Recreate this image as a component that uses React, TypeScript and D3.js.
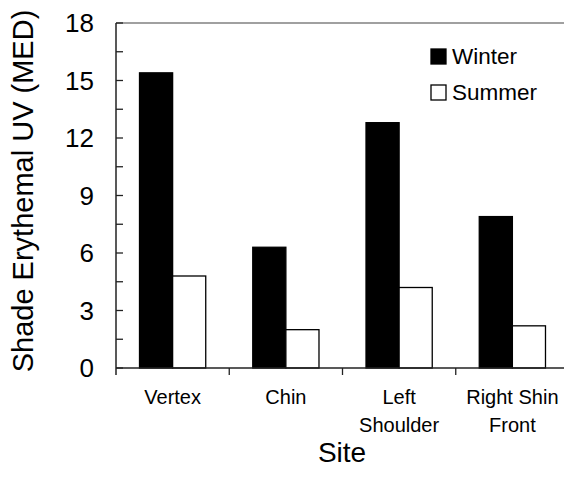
import { useEffect, useRef } from "react"
import * as d3 from "d3"

const sites = [["Vertex"], ["Chin"], ["Left", "Shoulder"], ["Right Shin", "Front"]]
const seasons = ["Winter", "Summer"]
const winter = [15.4, 6.3, 12.8, 7.9]
const summer = [4.8, 2.0, 4.2, 2.2]
const yTicks = [0, 3, 6, 9, 12, 15, 18]

const W = 564
const H = 479
const FONT = "Arial, 'Liberation Sans', sans-serif"

const App = () => {
  const ref = useRef<SVGSVGElement>(null)

  useEffect(() => {
    const svg = d3.select(ref.current)
    svg.selectAll("*").remove()

    const left = 116
    const right = 569
    const top = 23
    const bottom = 368

    const keys = sites.map((_, i) => String(i))
    const x = d3.scaleBand().domain(keys).range([left, right]).padding(0)
    const inner = d3
      .scaleBand()
      .domain(seasons)
      .range([0, x.bandwidth()])
      .paddingInner(0)
      .paddingOuter(0.71)
    const y = d3.scaleLinear().domain([0, 18]).range([bottom, top])

    const g = svg.append("g")

    // top frame line
    g.append("line")
      .attr("x1", left)
      .attr("x2", right)
      .attr("y1", top)
      .attr("y2", top)
      .attr("stroke", "#808080")
      .attr("stroke-width", 1.3)

    // bars
    const values = [winter, summer]
    seasons.forEach((s, si) => {
      g.selectAll(`.bar-${si}`)
        .data(values[si])
        .enter()
        .append("rect")
        .attr("x", (_, i) => (x(keys[i]) as number) + (inner(s) as number))
        .attr("y", (d) => y(d))
        .attr("width", inner.bandwidth())
        .attr("height", (d) => bottom - y(d))
        .attr("fill", si === 0 ? "#000" : "#fff")
        .attr("stroke", "#000")
        .attr("stroke-width", 1.3)
    })

    // y axis: ticks inward, minor every 1.5
    const minor = d3.range(0, 18.01, 1.5)
    g.selectAll(".ytick")
      .data(minor)
      .enter()
      .append("line")
      .attr("x1", left)
      .attr("x2", left + 7)
      .attr("y1", (d) => y(d))
      .attr("y2", (d) => y(d))
      .attr("stroke", "#222")
      .attr("stroke-width", 1.3)

    g.selectAll(".ylab")
      .data(yTicks)
      .enter()
      .append("text")
      .attr("x", 94)
      .attr("y", (d) => y(d))
      .attr("dy", "0.36em")
      .attr("text-anchor", "end")
      .attr("font-family", FONT)
      .attr("font-size", 26)
      .text((d) => d)

    g.append("line")
      .attr("x1", left)
      .attr("x2", left)
      .attr("y1", top)
      .attr("y2", bottom + 7)
      .attr("stroke", "#222")
      .attr("stroke-width", 1.5)

    // x axis
    g.append("line")
      .attr("x1", left)
      .attr("x2", right)
      .attr("y1", bottom)
      .attr("y2", bottom)
      .attr("stroke", "#222")
      .attr("stroke-width", 1.5)

    g.selectAll(".xtick")
      .data(keys.slice(1))
      .enter()
      .append("line")
      .attr("x1", (k) => x(k) as number)
      .attr("x2", (k) => x(k) as number)
      .attr("y1", bottom)
      .attr("y2", bottom + 7)
      .attr("stroke", "#222")
      .attr("stroke-width", 1.3)

    const labels = g
      .selectAll(".xlab")
      .data(sites)
      .enter()
      .append("text")
      .attr("text-anchor", "middle")
      .attr("font-family", FONT)
      .attr("font-size", 20)
      .attr("transform", (_, i) => `translate(${(x(keys[i]) as number) + x.bandwidth() / 2},404)`)
    labels
      .selectAll("tspan")
      .data((d) => d)
      .enter()
      .append("tspan")
      .attr("x", 0)
      .attr("dy", (_, j) => (j === 0 ? 0 : 28))
      .text((d) => d)

    // axis titles
    g.append("text")
      .attr("transform", `translate(33,${(13 + 369) / 2}) rotate(-90)`)
      .attr("text-anchor", "middle")
      .attr("font-family", FONT)
      .attr("font-size", 29)
      .text("Shade Erythemal UV (MED)")

    g.append("text")
      .attr("x", 342)
      .attr("y", 462)
      .attr("text-anchor", "middle")
      .attr("font-family", FONT)
      .attr("font-size", 28)
      .text("Site")

    // legend
    seasons.forEach((s, si) => {
      const ly = 49 + si * 36
      g.append("rect")
        .attr("x", 431)
        .attr("y", ly)
        .attr("width", 15)
        .attr("height", 15)
        .attr("fill", si === 0 ? "#000" : "#fff")
        .attr("stroke", "#000")
        .attr("stroke-width", 1.3)
      g.append("text")
        .attr("x", 452)
        .attr("y", ly + 15)
        .attr("font-family", FONT)
        .attr("font-size", 22.5)
        .text(s)
    })
  }, [])

  return (
    <svg
      ref={ref}
      width={W}
      height={H}
      style={{ position: "absolute", left: 0, top: 0, background: "#fff" }}
    />
  )
}

export default App
